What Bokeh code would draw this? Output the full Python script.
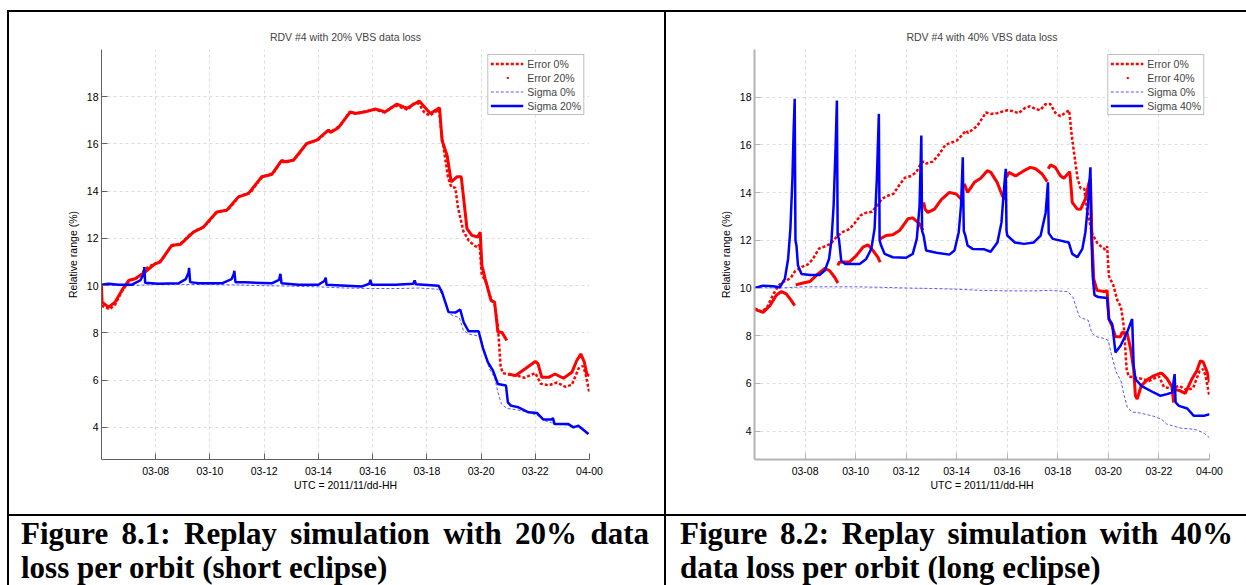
from bokeh.plotting import figure
from bokeh.models import (FixedTicker, Legend, LegendItem, Range1d, Div, Spacer)
from bokeh.layouts import row, column
from bokeh.embed import file_html
from bokeh.resources import INLINE

nan = float("nan")

# ---------------- data (hours after 2011/11/03 00:00) ----------------
tick_hours = [8, 10, 12, 14, 16, 18, 20, 22, 24]
tick_labels = ["03-08", "03-10", "03-12", "03-14", "03-16", "03-18", "03-20", "03-22", "04-00"]
y_ticks = [4, 6, 8, 10, 12, 14, 16, 18]

# Error 0% (no data loss) -- same reference run in both panels
err0_t = [6.0, 6.15, 6.3, 6.5, 6.75, 6.95, 7.1, 7.25, 7.45, 7.6, 7.9, 8.1, 8.3, 8.55, 8.8, 9.0,
          9.25, 9.5, 9.75, 9.95, 10.2, 10.4, 10.65, 10.85, 11.05, 11.3, 11.5, 11.75, 11.95, 12.2,
          12.4, 12.6, 12.7, 12.8, 13.05, 13.3, 13.55, 13.8, 14.0, 14.2, 14.37, 14.45, 14.6, 14.8,
          15.0, 15.15, 15.35, 15.6, 15.75, 16.0, 16.2, 16.45, 16.7, 16.9, 17.1, 17.3, 17.5, 17.7,
          17.9, 18.1, 18.3, 18.45, 18.55, 18.65, 18.78, 18.9, 19.05, 19.15, 19.35, 19.55, 19.75,
          19.88, 19.95, 20.02, 20.2, 20.35, 20.5, 20.62, 20.72, 20.8, 21.0, 21.3, 21.6, 22.0, 22.2,
          22.5, 22.8, 23.1, 23.35, 23.6, 23.75, 23.85, 24.0]
err0_v = [9.15, 9.08, 9.0, 9.2, 9.75, 10.1, 10.25, 10.3, 10.45, 10.7, 10.9, 10.98, 11.2, 11.65, 11.75, 11.85,
          12.15, 12.35, 12.47, 12.7, 13.05, 13.15, 13.2, 13.45, 13.75, 13.88, 13.95, 14.35, 14.62, 14.7,
          14.85, 15.25, 15.3, 15.22, 15.3, 15.6, 16.0, 16.1, 16.18, 16.4, 16.6, 16.5, 16.62, 16.78,
          17.1, 17.36, 17.3, 17.33, 17.38, 17.45, 17.42, 17.33, 17.55, 17.62, 17.52, 17.45, 17.7, 17.72,
          17.35, 17.2, 17.35, 17.45, 16.4, 15.6, 14.6, 14.18, 14.15, 13.3, 12.3, 11.9, 11.7,
          11.62, 11.75, 10.5, 10.1, 9.5, 9.2, 8.3, 6.6, 6.3, 6.25, 6.2, 6.1, 6.3, 5.85,
          5.78, 5.9, 5.72, 5.8, 6.5, 6.6, 6.3, 5.45]

# Sigma 0% (no data loss)
sig0_t = [6.0, 7.0, 8.0, 9.0, 10.0, 11.0, 12.0, 13.0, 14.0, 15.0, 16.0, 17.0, 17.7, 18.4, 18.6, 18.85,
          19.0, 19.2, 19.35, 19.55, 19.85, 20.0, 20.1, 20.3, 20.5, 20.62, 20.75, 20.95, 21.3, 21.8,
          22.1, 22.3, 22.6, 22.9, 23.2, 23.5, 23.8, 24.0]
sig0_v = [10.02, 10.0, 10.05, 10.05, 10.05, 10.03, 10.0, 9.98, 9.95, 9.9, 9.88, 9.88, 9.9, 9.85, 9.6, 8.8,
          8.72, 8.65, 8.1, 7.95, 7.88, 7.8, 7.3, 6.5, 6.1, 5.5, 5.0, 4.8, 4.75, 4.62,
          4.5, 4.3, 4.2, 4.12, 4.1, 4.05, 3.9, 3.72]

# Error 20% (short eclipse)
err20_t = [6.0, 6.02, 6.26, 6.5, 6.75, 7.0, 7.24, 7.61, 7.98, 8.16, 8.59, 8.9, 9.39, 9.76, 10.25, 10.62,
           11.05, 11.42, 11.91, 12.28, 12.65, 12.7, 13.08, 13.57, 13.94, 14.37, 14.45, 14.74, 15.04,
           15.18, 15.36, 15.73, 16.1, 16.47, 16.9, 17.27, 17.72, 18.13, 18.47, 18.56, 18.75, 18.9,
           19.11, 19.27, 19.48, 19.66, 19.88, 19.97, 20.03, 20.15, 20.37, 20.5, 20.62, 20.77, 20.95,
           nan, 21.01, 21.26, 21.63, 22.0, 22.1, 22.24, 22.49, 22.73, 23.04, 23.35, 23.53, 23.68,
           23.81, 23.9, 24.0]
err20_v = [10.0, 9.3, 9.09, 9.3, 9.8, 10.22, 10.29, 10.58, 10.93, 11.0, 11.71, 11.74, 12.27, 12.48, 13.12, 13.19,
           13.76, 13.9, 14.61, 14.71, 15.31, 15.24, 15.31, 16.02, 16.16, 16.59, 16.49, 16.69, 17.15,
           17.36, 17.29, 17.36, 17.48, 17.36, 17.69, 17.51, 17.82, 17.29, 17.53, 16.16, 15.5, 14.39,
           14.61, 14.61, 12.42, 12.13, 12.06, 12.27, 10.86, 10.3, 9.37, 9.3, 8.03, 8.03, 7.68,
           nan, 6.26, 6.19, 6.48, 6.79, 6.7, 6.12, 6.12, 6.26, 6.08, 6.33, 6.83, 7.11,
           6.76, 6.26, 6.19]

# Sigma 20% (short eclipse)
sig20_t = [6.0, 6.26, 6.63, 7.12, 7.43, 7.56, 7.58, 7.61, 8.1, 8.84, 9.11, 9.21, 9.23, 9.27, 9.58, 10.44,
           10.8, 10.88, 10.9, 10.94, 11.3, 12.28, 12.55, 12.6, 12.64, 13.26, 14.0, 14.22, 14.27, 14.3,
           15.04, 15.61, 15.88, 15.92, 15.96, 16.84, 17.5, 17.55, 17.6, 18.43, 18.56, 18.8, 19.05,
           19.23, 19.36, 19.54, 19.91, 20.06, 20.25, 20.44, 20.62, 20.92, 20.99, 21.1, 21.38, 21.75,
           22.06, 22.3, 22.61, 22.65, 22.71, 23.22, 23.41, 23.59, 23.96]
sig20_v = [10.04, 10.08, 10.04, 10.04, 10.22, 10.5, 10.79, 10.12, 10.08, 10.1, 10.28, 10.55, 10.75, 10.15, 10.1, 10.1,
           10.28, 10.5, 10.63, 10.15, 10.14, 10.1, 10.25, 10.5, 10.1, 10.04, 10.04, 10.2, 10.34, 10.04,
           10.0, 9.97, 10.08, 10.25, 10.04, 10.04, 10.08, 10.22, 10.06, 10.0, 9.73, 8.88, 8.86,
           8.99, 8.45, 8.07, 8.07, 7.39, 6.76, 6.4, 5.84, 5.77, 5.06, 4.92, 4.85, 4.64,
           4.61, 4.33, 4.33, 4.4, 4.14, 4.14, 4.0, 4.07, 3.72]

# Error 40% (long eclipse) -- gaps at each data-loss restart
err40_t = [6.0, 6.15, 6.34, 6.61, 6.87, 7.06, 7.26, 7.46, 7.59, nan,
           7.63, 7.92, 8.19, 8.51, 8.78, 8.97, 9.17, 9.3, nan,
           9.3, 9.35, 9.76, 10.03, 10.29, 10.49, 10.69, 10.88, 10.97, nan,
           10.97, 11.21, 11.47, 11.74, 12.07, 12.26, 12.53, 12.66, nan,
           12.69, 12.75, 12.86, 13.12, 13.39, 13.71, 13.98, 14.24, nan,
           14.3, 14.43, 14.7, 14.95, 15.21, 15.35, 15.6, 15.8, 15.9, nan,
           15.97, 16.06, 16.33, 16.66, 16.92, 17.12, 17.38, 17.58, nan,
           17.62, 17.71, 17.9, 18.1, 18.24, 18.47, 18.53, 18.57, 18.77, 18.9, 19.09, 19.22, 19.29,
           19.35, 19.42, 19.55, 19.82, 19.95, 20.02, 20.15, 20.28, 20.48, 20.54, 20.74, 20.87, 21.0,
           21.07, 21.14, 21.3, 21.53, 21.79, 22.06, 22.12, 22.32, 22.52, 22.58, nan,
           22.62, 22.84, 23.04, 23.3, 23.5, 23.64, 23.75, 23.9, 24.0]
err40_v = [9.12, 9.05, 8.98, 9.26, 9.71, 9.85, 9.75, 9.47, 9.26, nan,
           10.13, 10.21, 10.27, 10.59, 10.82, 10.73, 10.45, 10.21, nan,
           10.94, 11.08, 11.1, 11.36, 11.71, 11.81, 11.57, 11.29, 11.08, nan,
           12.06, 12.2, 12.23, 12.41, 12.9, 12.94, 12.69, 12.41, nan,
           13.59, 13.3, 13.17, 13.31, 13.71, 14.01, 13.94, 13.66, nan,
           14.37, 14.01, 14.43, 14.6, 14.92, 14.85, 14.43, 13.88, 13.7, nan,
           14.64, 14.85, 14.7, 14.92, 15.06, 15.0, 14.78, 14.46, nan,
           15.0, 15.16, 15.06, 14.71, 14.6, 14.88, 14.16, 13.59, 13.31, 13.3, 13.74, 14.37, 14.58,
           12.06, 10.38, 9.9, 9.85, 9.89, 8.7, 8.4, 7.96, 7.96, 8.14, 8.11, 7.5, 6.6,
           5.48, 5.34, 5.9, 6.15, 6.32, 6.43, 6.42, 6.2, 5.85, 5.2, nan,
           5.75, 5.69, 5.58, 6.18, 6.53, 6.95, 6.9, 6.5, 6.04]

# Sigma 40% (long eclipse)
sig40_t = [6.0, 6.34, 6.74, 7.0, 7.2, 7.33, 7.42, 7.5, 7.55, 7.59, 7.62, 7.66, 7.72, 7.86, 8.2, 8.58,
           8.78, 8.95, 9.05, 9.13, 9.21, 9.26, 9.29, 9.34, 9.43, 9.58, 10.16, 10.42, 10.62, 10.75,
           10.84, 10.92, 10.95, 11.01, 11.15, 11.47, 12.0, 12.26, 12.42, 12.53, 12.6, 12.63, 12.69,
           12.79, 13.2, 13.71, 13.91, 14.08, 14.17, 14.24, 14.28, 14.34, 14.43, 14.63, 15.09, 15.34,
           15.61, 15.77, 15.87, 15.94, 15.97, 16.0, 16.3, 16.66, 17.05, 17.32, 17.52, 17.61, 17.64,
           17.8, 18.43, 18.57, 18.77, 18.97, 19.09, 19.19, 19.29, 19.32, 19.38, 19.45, 19.6, 19.95,
           20.02, 20.15, 20.28, 20.48, 20.74, 20.94, 21.0, 21.07, 21.3, 21.79, 22.06, 22.32, 22.52,
           22.62, 22.66, 22.79, 23.12, 23.38, 23.77, 24.0]
sig40_v = [10.0, 10.1, 10.07, 10.03, 10.38, 11.22, 12.48, 14.58, 16.67, 17.93, 12.0, 11.78, 10.94, 10.59, 10.55, 10.55,
           10.73, 11.22, 12.06, 13.46, 15.97, 17.86, 12.2, 12.06, 11.15, 11.01, 11.01, 11.22, 11.64, 12.48,
           14.58, 17.3, 12.0, 11.78, 11.43, 11.29, 11.27, 11.43, 12.06, 13.46, 16.39, 12.4, 12.2,
           11.57, 11.48, 11.4, 11.57, 12.34, 13.46, 15.48, 12.4, 12.2, 11.78, 11.64, 11.62, 11.52,
           11.91, 12.75, 14.16, 15.0, 12.4, 12.2, 11.91, 11.85, 11.91, 12.2, 13.17, 14.43, 12.3,
           12.06, 11.91, 11.43, 11.29, 11.64, 12.34, 13.46, 15.06, 12.5, 10.5, 9.7, 9.62, 9.58,
           8.7, 8.49, 7.3, 7.58, 8.14, 8.7, 6.74, 6.18, 5.9, 5.62, 5.48, 5.55, 5.62,
           6.39, 5.2, 5.06, 4.95, 4.64, 4.64, 4.71]

caption_20 = "Figure 8.1: Replay simulation with 20% data loss per orbit (short eclipse)"
caption_40 = "Figure 8.2: Replay simulation with 40% data loss per orbit (long eclipse)"

RED = "#ff0000"
BLUE = "#0000ff"
SANS = "Liberation Sans"

ROW_H = 502      # height of chart cells
CAP_H = 69       # height of caption cells


def make_panel(title, width, border_left, border_right, y_lo, err_t, err_v, sig_t, sig_v,
               err_label, sig_label, axis_color, axis_width):
    p = figure(width=width, height=ROW_H, output_backend="svg", toolbar_location=None,
               x_range=Range1d(6, 24), y_range=Range1d(y_lo, 20.0),
               min_border_left=border_left, min_border_right=border_right,
               min_border_top=37, min_border_bottom=55,
               background_fill_color="white", border_fill_color="white", margin=0)
    p.outline_line_color = None
    p.title.text = title
    p.title.align = "center"
    p.title.text_font = SANS
    p.title.text_font_size = "10.5px"
    p.title.text_font_style = "normal"
    p.title.standoff = 13

    p.xaxis.ticker = FixedTicker(ticks=tick_hours)
    p.xaxis.major_label_overrides = {h: lab for h, lab in zip(tick_hours, tick_labels)}
    p.yaxis.ticker = FixedTicker(ticks=y_ticks)
    for ax in (p.xaxis[0], p.yaxis[0]):
        ax.major_tick_in = 6
        ax.major_tick_out = 0
        ax.minor_tick_line_color = None
        ax.axis_line_color = axis_color
        ax.axis_line_width = axis_width
        ax.major_tick_line_color = axis_color
        ax.major_label_text_font = SANS
        ax.major_label_text_font_size = "10.5px"
        ax.major_label_text_color = "black"
        ax.axis_label_text_font = SANS
        ax.axis_label_text_font_size = "10.5px"
        ax.axis_label_text_font_style = "normal"
        ax.axis_label_text_color = "black"
    p.xaxis.axis_label = "UTC = 2011/11/dd-HH"
    p.yaxis.axis_label = "Relative range (%)"
    p.xaxis.major_label_standoff = 7
    p.yaxis.major_label_standoff = 3
    p.xaxis.axis_label_standoff = 1
    p.yaxis.axis_label_standoff = 5
    p.grid.grid_line_color = "#dcdcdc"
    p.grid.grid_line_dash = "3 3"
    p.grid.grid_line_width = 1

    r_e0 = p.line(err0_t, err0_v, line_color=RED, line_width=2.5, line_dash="3 2")
    p.line(err_t, err_v, line_color=RED, line_width=3)
    # sparse-dot trace of the same samples (hidden under the thick line; gives the
    # single-dot legend symbol of a MATLAB '.' series)
    r_ed = p.line(err_t, err_v, line_color=RED, line_width=2, line_dash="2 200",
                  line_dash_offset=-16)
    r_s0 = p.line(sig0_t, sig0_v, line_color="#3030ff", line_width=1, line_dash="3 2", line_alpha=0.8)
    r_s = p.line(sig_t, sig_v, line_color=BLUE, line_width=2.5)

    legend = Legend(items=[LegendItem(label="Error 0%", renderers=[r_e0]),
                           LegendItem(label=err_label, renderers=[r_ed]),
                           LegendItem(label="Sigma 0%", renderers=[r_s0]),
                           LegendItem(label=sig_label, renderers=[r_s])],
                    location="top_right", margin=5, padding=2, spacing=1,
                    label_height=13, glyph_height=13, glyph_width=33, label_standoff=4,
                    label_text_font=SANS, label_text_font_size="10.5px",
                    border_line_color="#808080", border_line_width=1,
                    background_fill_color="white", background_fill_alpha=1.0)
    p.add_layout(legend)
    return p


p1 = make_panel("RDV #4 with 20% VBS data loss", 655, 92, 75, 2.64,
                err20_t, err20_v, sig20_t, sig20_v, "Error 20%", "Sigma 20%", "#606060", 1)
p2 = make_panel("RDV #4 with 40% VBS data loss", 580, 88, 37, 2.81,
                err40_t, err40_v, sig40_t, sig40_v, "Error 40%", "Sigma 40%", "#b4b4b4", 2)


def black(w, h):
    return Div(text="", width=w, height=h, margin=0,
               styles={"background-color": "black"})


def gap(w, h):
    return Spacer(width=w, height=h, margin=0)


def caption_div(text, w, pad_left, pad_right):
    html = ('<div style="font-family: \'Liberation Serif\', \'Times New Roman\', serif; '
            'font-weight: bold; font-size: 31px; line-height: 34px; text-align: justify; '
            'color: black; padding: 1px %dpx 0 %dpx; width: %dpx; box-sizing: border-box;">%s</div>'
            % (pad_right, pad_left, w, text))
    return Div(text=html, width=w, height=CAP_H, margin=0,
               styles={"background-color": "white", "overflow": "hidden"})


layout = column(
    gap(1246, 10),
    row(gap(7, 2), black(1239, 2), spacing=0),
    row(gap(7, ROW_H), black(2, ROW_H), p1, black(2, ROW_H), p2, spacing=0),
    row(gap(7, 2), black(1239, 2), spacing=0),
    row(gap(7, CAP_H), black(2, CAP_H), caption_div(caption_20, 655, 12, 15),
        black(2, CAP_H), caption_div(caption_40, 580, 14, 13), spacing=0),
    spacing=0,
)
open("out.html", "w").write(file_html(layout, INLINE))
